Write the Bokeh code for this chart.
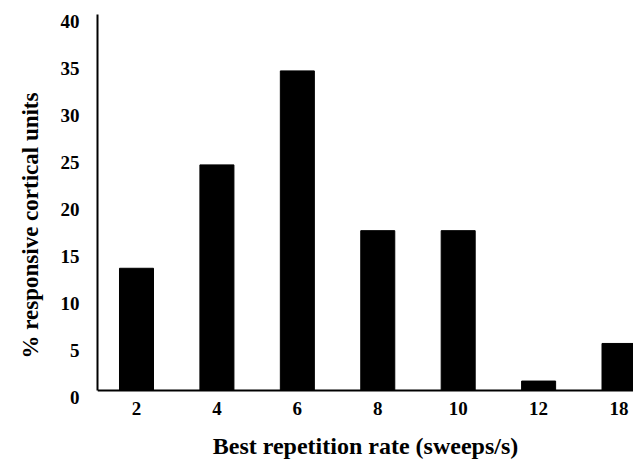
from bokeh.plotting import figure
from bokeh.models import Range1d, FixedTicker, LinearAxis, Title, Span
from bokeh.embed import file_html
from bokeh.resources import INLINE

categories = ["2", "4", "6", "8", "10", "12", "18"]
percent_units = [13, 24, 34, 17, 17, 1, 5]
y_ticks = [0, 5, 10, 15, 20, 25, 30, 35, 40]
x_title = "Best repetition rate (sweeps/s)"
y_title = "% responsive cortical units"

positions = list(range(len(categories)))
x_start, x_end = -0.485, 6.18
y_start, y_end = 0, 40
label_shift = 0.75  # tick labels sit slightly below their tick values in the original
FONT = "Liberation Serif"

p = figure(width=633, height=463, output_backend="svg", toolbar_location=None,
           x_range=Range1d(x_start, x_end),
           y_range=Range1d(y_start - label_shift, y_end),
           min_border_left=97, min_border_right=0, min_border_top=14, min_border_bottom=66)
p.outline_line_color = None
p.grid.visible = False
p.background_fill_color = "white"
p.border_fill_color = "white"

p.vbar(x=positions, top=percent_units, width=0.423, bottom=0,
       fill_color="black", line_color="black")

# baseline at zero
p.add_layout(Span(location=0, dimension="width", line_color="black", line_width=2))

# x axis (labels + title; the baseline above is the axis line)
xa = p.xaxis[0]
xa.ticker = FixedTicker(ticks=positions, minor_ticks=[])
xa.major_label_overrides = {i: c for i, c in zip(positions, categories)}
xa.axis_line_color = None
xa.major_tick_line_color = None
xa.minor_tick_line_color = None
xa.major_tick_out = 0
xa.major_tick_in = 0
xa.major_label_standoff = 4
xa.major_label_text_font = FONT
xa.major_label_text_font_style = "bold"
xa.major_label_text_font_size = "19px"
xa.major_label_text_color = "black"
xa.axis_label = x_title
xa.axis_label_standoff = 15
xa.axis_label_text_font = FONT
xa.axis_label_text_font_style = "bold"
xa.axis_label_text_font_size = "24px"
xa.axis_label_text_color = "black"

# main y axis: line only, from 0 to 40
ya = p.yaxis[0]
ya.ticker = FixedTicker(ticks=[], minor_ticks=[])
ya.bounds = (y_start, y_end)
ya.axis_line_width = 2
ya.axis_line_color = "black"
ya.major_tick_line_color = None
ya.minor_tick_line_color = None
ya.major_tick_out = 0
ya.major_tick_in = 0
ya.major_label_standoff = 0

# tick labels on a shifted range so they sit a little below their ticks
p.extra_y_ranges = {"lab": Range1d(y_start, y_end + label_shift)}
la = LinearAxis(y_range_name="lab", ticker=FixedTicker(ticks=y_ticks, minor_ticks=[]))
la.axis_line_color = None
la.major_tick_line_color = None
la.minor_tick_line_color = None
la.major_tick_out = 0
la.major_tick_in = 0
la.major_label_standoff = 18
la.major_label_text_font = FONT
la.major_label_text_font_style = "bold"
la.major_label_text_font_size = "19px"
la.major_label_text_color = "black"
p.add_layout(la, "left")

p.add_layout(Title(text=y_title, align="left", offset=39, standoff=30,
                   text_font=FONT, text_font_style="bold", text_font_size="23px",
                   text_color="black"), "left")

open("out.html", "w").write(file_html(p, INLINE))
